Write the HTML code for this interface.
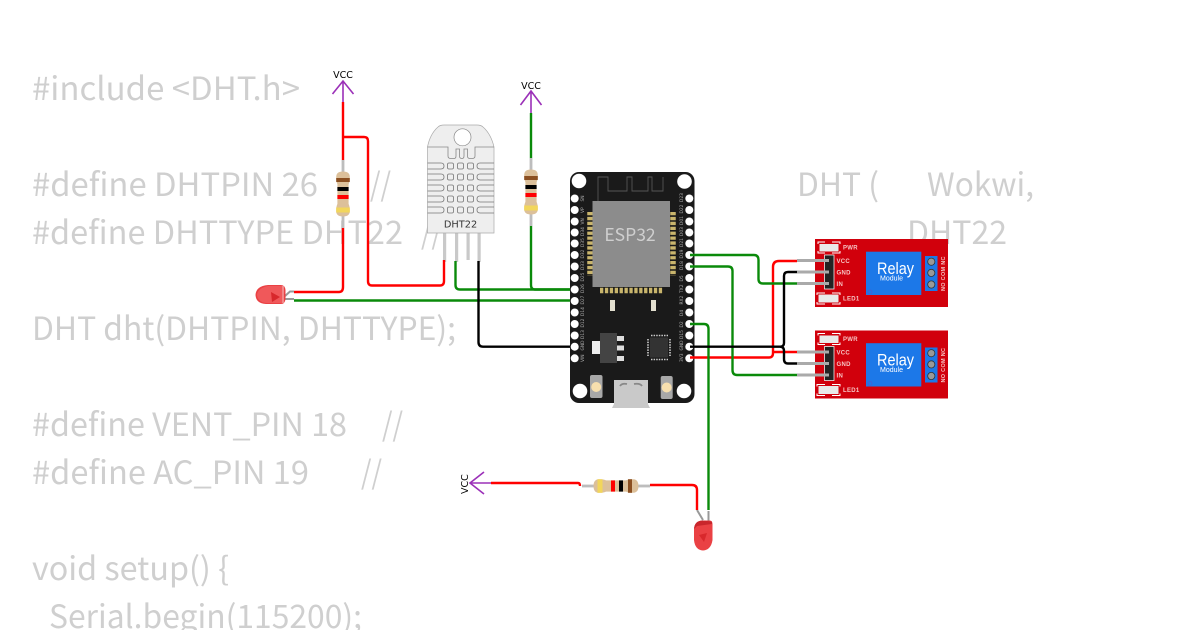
<!DOCTYPE html>
<html><head><meta charset="utf-8"><style>
html,body{margin:0;padding:0;background:#fff;width:1200px;height:630px;overflow:hidden}
svg{display:block}
.c{font-family:"Noto Sans CJK JP","Liberation Sans",sans-serif;font-size:32px;fill:#cfcfcf}
.w{fill:none;stroke-width:2.4;stroke-linejoin:round}
.l{font-family:"DejaVu Sans","Liberation Sans",sans-serif}
.p{font-family:"DejaVu Sans",sans-serif;font-size:4.4px;fill:#aaa}
.r{font-family:"Liberation Sans",sans-serif;font-size:6px;font-weight:bold;fill:#f6c4c4;letter-spacing:.3px}
</style></head><body>
<svg width="1200" height="630" viewBox="0 0 1200 630" xmlns="http://www.w3.org/2000/svg">
<defs>
<g id="res">
  <rect x="-1.4" y="-34" width="2.8" height="68" fill="#bdbdbd"/>
  <path d="M-6.800 -17Q-6.800 -22.500 0 -22.500Q6.800 -22.500 6.800 -17Q6.800 -12 5.600 -10V10Q6.800 12 6.800 17Q6.800 22.500 0 22.500Q-6.800 22.500 -6.800 17Q-6.800 12 -5.600 10V-10Q-6.800 -12 -6.800 -17Z" fill="#dcc09a"/>
  <rect x="-6.800" y="-16" width="13.600" height="4" fill="#8b4f20"/>
  <rect x="-5.600" y="-7" width="11.200" height="4" fill="#000"/>
  <rect x="-5.600" y="1" width="11.200" height="4" fill="#f00"/>
  <rect x="-6.800" y="13.500" width="13.600" height="5" fill="#f2d65b"/>
</g>
<g id="relay">
  <rect x="0" y="0" width="133" height="68" fill="#d1000c"/>
  <path d="M3 5V3H10M17 3H25V5M25 12V14H17M10 14H3V12" fill="none" stroke="#fff" stroke-width="1"/>
  <rect x="4.500" y="5" width="19" height="7.500" fill="#e9e9e9"/>
  <path d="M2 56V54H10M17 54H25V56M25 63V65H17M10 65H2V63" fill="none" stroke="#fff" stroke-width="1"/>
  <rect x="3.500" y="55.500" width="20" height="8" fill="#e9e9e9"/>
  <rect x="9.500" y="16" width="9.500" height="34" fill="#222" stroke="#eee" stroke-width=".8"/>
  <rect x="51" y="12.700" width="55.300" height="43.300" fill="#1c78e8"/>
  <circle cx="55" cy="53" r="2" fill="none" stroke="#4b5bd0" stroke-width=".8"/>
  <rect x="110" y="17" width="12.500" height="35" fill="#1c78e8"/>
  <circle cx="116.300" cy="22.700" r="3.600" fill="#999" stroke="#333" stroke-width=".8"/>
  <circle cx="116.300" cy="33.900" r="3.600" fill="#999" stroke="#333" stroke-width=".8"/>
  <circle cx="116.300" cy="45.500" r="3.600" fill="#999" stroke="#333" stroke-width=".8"/>
  <text x="62" y="35" font-family="'Liberation Sans',sans-serif" font-size="17" fill="#fff" textLength="37" lengthAdjust="spacingAndGlyphs">Relay</text>
  <text x="65" y="41.700" font-family="'Liberation Sans',sans-serif" font-size="7" fill="#fff" textLength="23" lengthAdjust="spacingAndGlyphs">Module</text>
  <text x="28" y="10.500" class="r">PWR</text>
  <text x="21.500" y="24" class="r">VCC</text>
  <text x="21.500" y="35.500" class="r">GND</text>
  <text x="21.500" y="47" class="r">IN</text>
  <text x="28" y="61.500" class="r">LED1</text>
  <text transform="translate(130,52) rotate(-90)" class="r" style="font-size:5.500px">NO COM NC</text>
</g>
</defs>

<text class="c" x="32" y="100" textLength="268" lengthAdjust="spacingAndGlyphs">#include &lt;DHT.h&gt;</text>
<text class="c" x="32" y="196" textLength="286" lengthAdjust="spacingAndGlyphs">#define DHTPIN 26</text>
<text class="c" x="370" y="196" textLength="21" lengthAdjust="spacingAndGlyphs">//</text>
<text class="c" x="797" y="196" textLength="82" lengthAdjust="spacingAndGlyphs">DHT (</text>
<text class="c" x="927" y="196" textLength="107" lengthAdjust="spacingAndGlyphs">Wokwi,</text>
<text class="c" x="32" y="244" textLength="371" lengthAdjust="spacingAndGlyphs">#define DHTTYPE DHT22</text>
<text class="c" x="421" y="244" textLength="21" lengthAdjust="spacingAndGlyphs">//</text>
<text class="c" x="907" y="244" textLength="100" lengthAdjust="spacingAndGlyphs">DHT22</text>
<text class="c" x="32" y="340" textLength="424" lengthAdjust="spacingAndGlyphs">DHT dht(DHTPIN, DHTTYPE);</text>
<text class="c" x="32" y="436" textLength="315" lengthAdjust="spacingAndGlyphs">#define VENT_PIN 18</text>
<text class="c" x="382" y="436" textLength="21" lengthAdjust="spacingAndGlyphs">//</text>
<text class="c" x="32" y="484" textLength="277" lengthAdjust="spacingAndGlyphs">#define AC_PIN 19</text>
<text class="c" x="361" y="484" textLength="21" lengthAdjust="spacingAndGlyphs">//</text>
<text class="c" x="32" y="580" textLength="197" lengthAdjust="spacingAndGlyphs">void setup() {</text>
<text class="c" x="49" y="628" textLength="313" lengthAdjust="spacingAndGlyphs">Serial.begin(115200);</text>

<!-- VCC symbols -->
<g fill="none" stroke="#9b30b8" stroke-width="1.600">
  <path d="M343 102V81M332.500 94L343 81L353.500 94"/>
  <path d="M531 113V91M520.500 105L531 91L541.500 105"/>
  <path d="M491 483H470M484 472L470 483L484 494"/>
</g>
<text x="343" y="78" text-anchor="middle" class="l" font-size="9.500" fill="#000">VCC</text>
<text x="531" y="89" text-anchor="middle" class="l" font-size="9.500" fill="#000">VCC</text>
<text transform="translate(468,494) rotate(-90)" class="l" font-size="9.500" fill="#000">VCC</text>

<!-- Resistors -->
<use href="#res" transform="translate(343,194)"/>
<use href="#res" transform="translate(531,192)"/>
<use href="#res" transform="translate(616,486) rotate(90)"/>

<!-- DHT22 -->
<g>
  <g fill="#c9c9c9"><rect x="443" y="232" width="3.200" height="30"/><rect x="455" y="232" width="3.200" height="30"/><rect x="466.500" y="232" width="3.200" height="28"/><rect x="477.500" y="232" width="3.200" height="30"/></g>
  <path d="M427.500 233V147Q430 134 438 127Q440 125 444 125H477Q481 125 483 127Q491 134 494 147V233Z" fill="#eee" stroke="#aaa" stroke-width=".7"/>
  <path d="M427.500 147H448V156Q448 158.500 451 158.500H454Q456 158.500 456 156V149H459.500V156Q459.500 158.500 462 158.500Q464 158.500 464 156V149H467.500V156Q467.500 158.500 470 158.500H472Q475 158.500 475 156V147H494" fill="none" stroke="#888" stroke-width=".8"/>
  <circle cx="462.500" cy="137.300" r="8.500" fill="#fff" stroke="#888" stroke-width=".7"/>
  <g fill="none" stroke="#777" stroke-width=".8">
    <path d="M427.500 163H441Q444 163 444 166Q444 169 441 169H427.500M494 163H480Q477 163 477 166Q477 169 480 169H494"/>
    <path d="M427.500 174H441Q444 174 444 177Q444 180 441 180H427.500M494 174H480Q477 174 477 177Q477 180 480 180H494"/>
    <path d="M427.500 185H441Q444 185 444 188Q444 191 441 191H427.500M494 185H480Q477 185 477 188Q477 191 480 191H494"/>
    <path d="M427.500 196H441Q444 196 444 199Q444 202 441 202H427.500M494 196H480Q477 196 477 199Q477 202 480 202H494"/>
    <path d="M427.500 207H441Q444 207 444 210Q444 213 441 213H427.500M494 207H480Q477 207 477 210Q477 213 480 213H494"/>
    <rect x="447.500" y="163" width="6" height="6" rx="1.500"/><rect x="457.500" y="163" width="6" height="6" rx="1.500"/><rect x="467.500" y="163" width="6" height="6" rx="1.500"/>
    <rect x="447.500" y="174" width="6" height="6" rx="1.500"/><rect x="457.500" y="174" width="6" height="6" rx="1.500"/><rect x="467.500" y="174" width="6" height="6" rx="1.500"/>
    <rect x="447.500" y="185" width="6" height="6" rx="1.500"/><rect x="457.500" y="185" width="6" height="6" rx="1.500"/><rect x="467.500" y="185" width="6" height="6" rx="1.500"/>
    <rect x="447.500" y="196" width="6" height="6" rx="1.500"/><rect x="457.500" y="196" width="6" height="6" rx="1.500"/><rect x="467.500" y="196" width="6" height="6" rx="1.500"/>
    <rect x="447.500" y="207" width="6" height="6" rx="1.500"/><rect x="457.500" y="207" width="6" height="6" rx="1.500"/><rect x="467.500" y="207" width="6" height="6" rx="1.500"/>
  </g>
  <text x="460.500" y="227.500" text-anchor="middle" class="l" font-size="9.800" fill="#333">DHT22</text>
</g>

<!-- ESP32 -->
<rect x="570" y="172" width="124.500" height="231" rx="9" fill="#1a1a1a"/>
<path d="M598 201V177H608V191H627V177H632V191H648V177H652V191H663V177" fill="none" stroke="#555" stroke-width=".9"/>
<g fill="#fff">
  <circle cx="579" cy="181" r="7.300"/><circle cx="684.500" cy="181.500" r="7.300"/><circle cx="580" cy="391" r="7.300"/><circle cx="684" cy="391" r="7.300"/>
</g>
<g fill="none" stroke="#c9b56c" stroke-dasharray="3.300 1.600">
  <path d="M590 212V276" stroke-width="5.500"/>
  <path d="M673 212V276" stroke-width="5.500"/>
  <path d="M600 290.500H663" stroke-width="5.500"/>
</g>
<rect x="592.500" y="201" width="77.500" height="86" fill="#8c8c8c"/>
<text x="630" y="241" text-anchor="middle" font-family="'Noto Sans CJK JP','Liberation Sans',sans-serif" font-size="17.500" fill="#cfcfcf">ESP32</text>
<rect x="610" y="300" width="5" height="11" fill="#e3e0d0"/><rect x="651" y="300" width="5" height="11" fill="#e3e0d0"/>
<!-- pin holes -->
<g fill="#fff">
  <circle cx="574.700" cy="198.500" r="4"/><circle cx="574.700" cy="210" r="4"/><circle cx="574.700" cy="221.500" r="4"/><circle cx="574.700" cy="232.500" r="4"/><circle cx="574.700" cy="243.500" r="4"/><circle cx="574.700" cy="255" r="4"/><circle cx="574.700" cy="266.500" r="4"/><circle cx="574.700" cy="278" r="4"/><circle cx="574.700" cy="289.500" r="4"/><circle cx="574.700" cy="301" r="4"/><circle cx="574.700" cy="312.500" r="4"/><circle cx="574.700" cy="324" r="4"/><circle cx="574.700" cy="335.500" r="4"/><circle cx="574.700" cy="346.700" r="4"/><circle cx="574.700" cy="358.300" r="4"/>
  <circle cx="689.300" cy="198.500" r="4"/><circle cx="689.300" cy="210" r="4"/><circle cx="689.300" cy="221.500" r="4"/><circle cx="689.300" cy="232.500" r="4"/><circle cx="689.300" cy="243.500" r="4"/><circle cx="689.300" cy="255" r="4"/><circle cx="689.300" cy="266.500" r="4"/><circle cx="689.300" cy="278" r="4"/><circle cx="689.300" cy="289.500" r="4"/><circle cx="689.300" cy="301" r="4"/><circle cx="689.300" cy="312.500" r="4"/><circle cx="689.300" cy="324" r="4"/><circle cx="689.300" cy="335.500" r="4"/><circle cx="689.300" cy="346.700" r="4"/><circle cx="689.300" cy="358.300" r="4"/>
</g>
<g>
  <text transform="translate(584,201.500) rotate(-90)" class="p">SN</text><text transform="translate(584,213) rotate(-90)" class="p">VP</text><text transform="translate(584,224.500) rotate(-90)" class="p">VN</text><text transform="translate(584,236) rotate(-90)" class="p">D34</text><text transform="translate(584,247) rotate(-90)" class="p">D35</text><text transform="translate(584,258.500) rotate(-90)" class="p">D32</text><text transform="translate(584,270) rotate(-90)" class="p">D33</text><text transform="translate(584,281.500) rotate(-90)" class="p">D25</text><text transform="translate(584,293) rotate(-90)" class="p">D26</text><text transform="translate(584,304.500) rotate(-90)" class="p">D27</text><text transform="translate(584,316) rotate(-90)" class="p">D14</text><text transform="translate(584,327.500) rotate(-90)" class="p">D12</text><text transform="translate(584,339) rotate(-90)" class="p">D13</text><text transform="translate(584,350.500) rotate(-90)" class="p">GND</text><text transform="translate(584,362) rotate(-90)" class="p">VIN</text>
  <text transform="translate(683,202) rotate(-90)" class="p">D23</text><text transform="translate(683,213.500) rotate(-90)" class="p">D22</text><text transform="translate(683,225) rotate(-90)" class="p">D01</text><text transform="translate(683,236) rotate(-90)" class="p">D03</text><text transform="translate(683,247) rotate(-90)" class="p">D21</text><text transform="translate(683,258.500) rotate(-90)" class="p">D19</text><text transform="translate(683,270) rotate(-90)" class="p">D18</text><text transform="translate(683,281.500) rotate(-90)" class="p">D5</text><text transform="translate(683,293) rotate(-90)" class="p">TX2</text><text transform="translate(683,304.500) rotate(-90)" class="p">RX2</text><text transform="translate(683,316) rotate(-90)" class="p">D4</text><text transform="translate(683,327.500) rotate(-90)" class="p">D2</text><text transform="translate(683,339) rotate(-90)" class="p">D15</text><text transform="translate(683,350.500) rotate(-90)" class="p">GND</text><text transform="translate(683,362) rotate(-90)" class="p">3V3</text>
</g>
<!-- regulator -->
<rect x="592" y="341" width="8" height="13" fill="#eee"/>
<rect x="600" y="333" width="17" height="30" fill="#444"/>
<rect x="617" y="336" width="7" height="5" fill="#ddd"/><rect x="617" y="345.500" width="7" height="5" fill="#ddd"/><rect x="617" y="356" width="7" height="5" fill="#ddd"/>
<!-- CH340 -->
<rect x="650" y="337.500" width="18" height="20" fill="#333"/>
<path d="M650 336V359M668 336V359" stroke="#ccc" stroke-width="0" fill="none"/>
<g fill="none" stroke="#ccc" stroke-width="1.600" stroke-dasharray="1.500 1.100">
  <path d="M651 335.500H668M651 359.500H668M648 339V356M670 339V356"/>
</g>
<!-- buttons -->
<g><rect x="590" y="375" width="12.500" height="23" rx="2" fill="#a8a8a8"/><circle cx="596.200" cy="387" r="5" fill="#f7dfae"/>
<rect x="660.700" y="376" width="12" height="23" rx="2" fill="#a8a8a8"/><circle cx="666.700" cy="387.500" r="5" fill="#f7dfae"/></g>
<!-- USB -->
<path d="M614 380H648V404L650 408H612L614 404Z" fill="#c9c9c9"/>
<path d="M620 386Q622 383 627 384M634 384Q640 383 642 386" fill="none" stroke="#888" stroke-width="1.800"/>

<!-- Relays -->
<use href="#relay" transform="translate(815,239)"/>
<use href="#relay" transform="translate(815,330.500)"/>
<g stroke="#aaa" stroke-width="3">
  <path d="M797 260.500H829M797 272H829M797 283.500H829"/>
  <path d="M797 352H829M797 363.500H829M797 375H829"/>
</g>

<!-- LEDs -->
<path d="M285 296L290 291.500H294" stroke="#999" stroke-width="2" fill="none"/>
<path d="M285 299H294" stroke="#999" stroke-width="2"/>
<path d="M268 285H281Q285 285 285.500 290V299Q285 304 281 304H266Q256 303.500 255.500 295Q256 286 268 285Z" fill="#ea4144"/>
<path d="M268 286H282V303H266Q258 302 257 295Q258 288 268 286Z" fill="#f0585a"/>
<path d="M271 292L280 297L272 302Z" fill="#d8282c"/>
<path d="M283 286V303" stroke="#f5a0a0" stroke-width="1.500"/>

<path d="M697 510L703 520" stroke="#999" stroke-width="2"/>
<path d="M708.500 511V521" stroke="#999" stroke-width="2"/>
<path d="M694 530Q694 521 703 520.500H710Q712.500 521 712.500 524V540Q711 550 703 550.500Q695 550 694 540Z" fill="#ea4144"/>
<path d="M694 529Q694.500 521 702 520.500L712 521.500V524L697 526Z" fill="#c9262c"/>
<path d="M699 535L707 533L704 542Z" fill="#d8282c"/>

<!-- Wires -->
<g class="w" stroke="#f00">
  <path d="M343 102V160M343 228V287Q343 292 339 292H294"/>
  <path d="M343 137H364Q368 137 368 141V281Q368 285.500 372 285.500H440Q444 285.500 444 281V260"/>
  <path d="M491 483H578Q580 483 580 486"/>
  <path d="M650 485H692Q697 485 697 490V510"/>
  <path d="M690 357.500H769Q773 357.500 773 353V267Q773 261 779 261H797"/>
  <path d="M773 352H797"/>
</g>
<g class="w" stroke="#0a8a0a">
  <path d="M531 113V158M531 226V285Q531 289.500 535 289.500H570"/>
  <path d="M455.500 261V285Q455.500 289.500 460 289.500H570"/>
  <path d="M294 300.500H570"/>
  <path d="M690 255H754Q758.500 255 758.500 260V279Q758.500 283.500 763 283.500H797"/>
  <path d="M690 266.500H728Q732.500 266.500 732.500 271V370Q732.500 375 737 375H797"/>
  <path d="M690 324H704Q708.500 324 708.500 329V510"/>
</g>
<g class="w" stroke="#000">
  <path d="M478.500 261V342Q478.500 346.700 483 346.700H570"/>
  <path d="M690 346.700H780Q784 346.700 784 343V276Q784 272 788 272H797"/>
  <path d="M780 346.700Q784 346.700 784 351V359Q784 363.500 788 363.500H797"/>
</g>
</svg>
</body></html>
